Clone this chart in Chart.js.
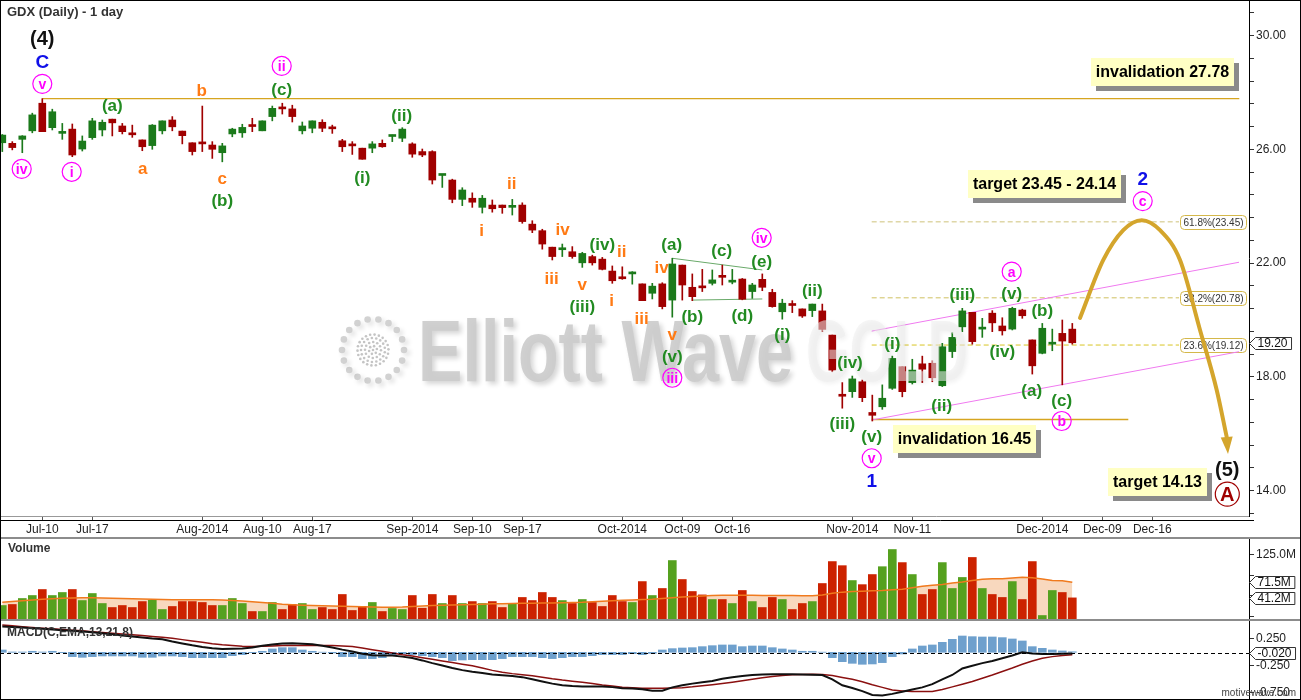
<!DOCTYPE html>
<html>
<head>
<meta charset="utf-8">
<script src="https://cdn.jsdelivr.net/npm/chart.js@4.4.1/dist/chart.umd.min.js"></script>
<style>
    body { margin: 0; background: #fff; overflow: hidden; }
    #wrap { position: relative; width: 1301px; height: 700px; }
    canvas { position: absolute; left: 0; }
    .sep { position: absolute; left: 0; width: 1301px; height: 2px; background: #8c8c8c; }
    #frame { position: absolute; left: 0; top: 0; width: 1301px; height: 700px; box-sizing: border-box; border: 1px solid #000; pointer-events: none; }
</style>
</head>
<body>
<div id="wrap">
    <canvas id="priceChart" width="1301" height="537" style="top:0"></canvas>
    <div class="sep" style="top:537px"></div>
    <canvas id="volumeChart" width="1301" height="80" style="top:539px"></canvas>
    <div class="sep" style="top:619px"></div>
    <canvas id="macdChart" width="1301" height="78" style="top:621px"></canvas>
    <div id="frame"></div>
</div>
<script>
// ==========================================
// GDX daily - price / volume / MACD
// ==========================================

// trading-day index of the first bar (Jul 3 2014), Jul 10 2014 = 0
const firstIndex = -4;

const tickIndex = [0, 5, 16, 22, 27, 37, 43, 48, 58, 64, 69, 81, 87, 100, 106, 111];
const tickLabels = ["Jul-10", "Jul-17", "Aug-2014", "Aug-10", "Aug-17", "Sep-2014", "Sep-10", "Sep-17",
    "Oct-2014", "Oct-09", "Oct-16", "Nov-2014", "Nov-11", "Dec-2014", "Dec-09", "Dec-16"];

const open = [26.23, 26.21, 26.35, 26.65, 27.62, 26.76, 26.56, 26.71, 26.01, 26.41, 26.68, 27.06, 26.82, 26.56,
    26.33, 26.13, 26.65, 27.03, 26.64, 26.23, 26.22, 26.15, 25.88, 26.54,
    26.58, 26.84, 26.65, 27.15, 27.46, 27.42, 26.65, 26.74, 26.95, 26.76,
    26.30, 26.16, 26.04, 26.04, 26.21, 26.45, 26.39, 26.19, 25.92, 25.92,
    25.08, 24.92, 24.24, 24.28, 23.96, 24.04, 24.04, 23.96, 24.04, 23.37,
    23.14, 22.56, 22.47, 22.40, 22.01, 22.23, 22.14, 21.72, 21.48, 21.62,
    21.27, 20.94, 21.27, 20.70, 21.93, 21.15, 21.17, 21.29, 21.55, 21.33,
    21.44, 21.00, 21.43, 20.97, 20.29, 20.55, 20.39, 20.33, 20.32, 19.47,
    17.36, 17.48, 17.83, 16.75, 16.95, 17.60, 18.36, 17.80, 18.46, 18.48,
    17.69, 18.89, 19.76, 20.27, 19.68, 20.24, 19.79, 19.68, 20.35, 19.30,
    18.83, 19.15, 19.53, 19.68];

const high = [26.52, 26.27, 26.48, 27.27, 27.78, 27.41, 26.91, 26.89, 26.47, 27.09, 27.03, 27.06, 26.91, 26.85,
    26.33, 26.87, 27.00, 27.15, 26.64, 26.23, 27.52, 26.27, 26.21, 26.74,
    26.88, 27.09, 27.00, 27.52, 27.62, 27.55, 26.96, 27.00, 27.04, 26.85,
    26.35, 26.27, 26.04, 26.27, 26.33, 26.50, 26.76, 26.23, 26.01, 25.95,
    25.12, 24.95, 24.65, 24.47, 24.38, 24.22, 24.04, 24.24, 24.12, 23.49,
    23.19, 22.56, 22.67, 22.58, 22.38, 22.28, 22.20, 21.90, 21.87, 21.70,
    21.27, 21.29, 21.31, 22.17, 21.93, 21.62, 21.78, 21.76, 21.93, 21.78,
    21.46, 21.29, 21.62, 21.08, 20.73, 20.68, 20.39, 20.56, 20.56, 19.47,
    17.80, 18.03, 17.89, 17.36, 17.72, 18.73, 18.36, 18.62, 18.73, 18.57,
    19.18, 19.56, 20.41, 20.27, 20.06, 20.33, 20.08, 20.45, 20.38, 19.30,
    19.88, 19.68, 20.00, 19.88];

const low = [25.92, 25.98, 25.88, 26.58, 26.62, 26.68, 26.35, 25.74, 25.94, 26.35, 26.47, 26.47, 26.54, 26.42,
    25.95, 26.00, 26.54, 26.65, 26.19, 25.80, 25.92, 25.68, 25.56, 26.44,
    26.42, 26.62, 26.65, 27.00, 27.24, 26.96, 26.54, 26.58, 26.62, 26.56,
    25.92, 25.82, 25.65, 25.88, 26.07, 26.27, 26.27, 25.72, 25.74, 24.78,
    24.66, 24.12, 24.02, 23.96, 23.76, 23.79, 23.75, 23.69, 23.40, 23.07,
    22.49, 22.11, 22.23, 22.17, 21.85, 21.93, 21.76, 21.29, 21.43, 21.26,
    20.68, 20.74, 20.39, 20.10, 20.70, 20.68, 21.00, 21.23, 21.23, 21.27,
    20.71, 20.76, 21.03, 20.45, 20.03, 20.26, 20.09, 20.12, 19.59, 18.18,
    16.90, 17.28, 17.13, 16.45, 16.86, 17.56, 17.30, 17.75, 17.80, 17.83,
    17.66, 18.68, 19.59, 19.15, 19.39, 19.59, 19.47, 19.65, 20.06, 18.10,
    18.81, 18.92, 17.72, 19.15];

const close = [26.50, 26.06, 26.47, 27.21, 26.62, 27.32, 26.60, 25.80, 26.29, 27.00, 26.95, 26.93, 26.62, 26.51,
    26.09, 26.85, 27.00, 26.79, 26.48, 25.92, 26.19, 26.00, 26.12, 26.71,
    26.77, 26.80, 27.00, 27.44, 27.42, 27.15, 26.82, 27.00, 26.74, 26.72,
    26.09, 26.12, 25.65, 26.19, 26.09, 26.48, 26.71, 25.83, 25.80, 24.92,
    25.10, 24.24, 24.57, 24.14, 24.28, 23.91, 23.95, 24.00, 23.46, 23.16,
    22.67, 22.23, 22.51, 22.23, 22.34, 22.01, 21.78, 21.38, 21.45, 21.66,
    20.68, 21.19, 20.47, 21.97, 21.23, 20.82, 21.13, 21.41, 21.50, 21.37,
    20.73, 21.23, 21.15, 20.47, 20.59, 20.51, 20.14, 20.56, 19.67, 18.24,
    17.32, 17.93, 17.27, 16.65, 17.25, 18.65, 17.48, 18.24, 18.27, 17.97,
    19.06, 19.39, 20.32, 19.24, 19.73, 19.90, 19.62, 20.41, 20.15, 18.39,
    19.71, 19.20, 19.26, 19.20];

// volume, millions
const volume = [26.3, 28.3, 40, 45.8, 57.5, 45.8, 51.7, 57.5, 36, 49.7, 30.2, 22.4, 26.3, 22.4,
    34, 36.6, 18.5, 24.4, 34, 34, 32.2, 26.3, 26.3, 40,
    30.2, 14.6, 14.6, 32.2, 18.5, 28.3, 30.2, 18.5, 22.4, 18.5,
    47.8, 16.6, 24.4, 32.2, 14.6, 20.5, 18.5, 45.8, 21, 47.8,
    30.2, 45.8, 30.2, 34, 30.2, 34, 22.4, 30.2, 42, 36,
    51.7, 42, 36, 30.2, 38, 32.2, 24.4, 45.8, 34, 32.2,
    73, 45.8, 59.5, 114, 77, 53.6, 47, 38, 38, 30.2,
    55.6, 34, 22.4, 42, 38, 18.5, 30.2, 34, 69.2, 112,
    104, 75, 67, 86.7, 102, 135.5, 110, 86.7, 47.8, 57.5,
    110, 59.5, 81, 120, 59.5, 47.8, 42, 73, 38, 112,
    6.8, 55.6, 51.7, 41.2];

const volumeMA = [32.8, 34, 35.5, 37, 38.5, 39.5, 40.5, 41, 41.3, 41.3, 41, 40.5, 40, 39.5,
    39, 38.5, 38, 37.5, 37.4, 37.4, 37.4, 37.4, 37, 36,
    35, 33.5, 32, 30.5, 29, 28, 27, 26.3, 26, 25.5,
    25, 24.5, 24, 23.5, 23.1, 23.1, 23.5, 24.5, 25.5, 26.3,
    27, 27.5, 28, 28.5, 29, 29.6, 29.8, 30, 30.5, 30.8,
    31, 31.2, 31.5, 32, 32.5, 33.5, 34.5, 35.5, 36.5, 37.2,
    38, 38.5, 40, 41.3, 43, 44, 45, 46, 46.5, 46.5,
    46.5, 46.5, 46, 46, 46, 45.8, 45.5, 45.4, 47, 50,
    52.4, 53.6, 54.3, 55, 55.6, 57, 58.2, 61, 64, 66,
    67.3, 70, 72, 75, 77.5, 78.4, 78.4, 80, 81.6, 80.5,
    78, 75.1, 74.5, 71.5];

const macdLine = [0.478, 0.47, 0.46, 0.447, 0.435, 0.423, 0.41, 0.398, 0.386, 0.37, 0.352, 0.333, 0.312, 0.295,
    0.275, 0.255, 0.24, 0.20, 0.165, 0.13, 0.10, 0.075, 0.06, 0.065,
    0.07, 0.09, 0.12, 0.145, 0.165, 0.17, 0.16, 0.15, 0.12, 0.09,
    0.05, 0.015, -0.025, -0.055, -0.06, -0.06, -0.08, -0.105, -0.15, -0.20,
    -0.245, -0.29, -0.33, -0.36, -0.385, -0.41, -0.425, -0.44, -0.46, -0.50,
    -0.54, -0.58, -0.61, -0.625, -0.633, -0.633, -0.635, -0.645, -0.664, -0.672,
    -0.683, -0.71, -0.71, -0.65, -0.61, -0.58, -0.555, -0.53, -0.49, -0.46,
    -0.44, -0.42, -0.41, -0.405, -0.405, -0.405, -0.41, -0.415, -0.42, -0.50,
    -0.61, -0.66, -0.72, -0.79, -0.80, -0.77, -0.73, -0.69, -0.65, -0.59,
    -0.50, -0.42, -0.30, -0.25, -0.20, -0.16, -0.11, -0.06, 0.0, -0.02,
    -0.03, -0.03, -0.025, -0.020];

const signalLine = [0.505, 0.49, 0.475, 0.46, 0.447, 0.435, 0.422, 0.41, 0.398, 0.383, 0.368, 0.352, 0.338, 0.325,
    0.31, 0.295, 0.28, 0.26, 0.235, 0.21, 0.185, 0.16, 0.14, 0.125,
    0.112, 0.108, 0.112, 0.118, 0.124, 0.126, 0.126, 0.126, 0.126, 0.126,
    0.118, 0.108, 0.08, 0.048, 0.02, -0.013, -0.045, -0.07, -0.10, -0.13,
    -0.16, -0.19, -0.22, -0.25, -0.29, -0.335, -0.37, -0.395, -0.415, -0.435,
    -0.46, -0.49, -0.515, -0.535, -0.555, -0.58, -0.605, -0.625, -0.646, -0.655,
    -0.664, -0.665, -0.665, -0.662, -0.655, -0.64, -0.62, -0.60, -0.578, -0.553,
    -0.525, -0.497, -0.472, -0.448, -0.43, -0.417, -0.41, -0.405, -0.41, -0.43,
    -0.465, -0.50, -0.545, -0.60, -0.65, -0.70, -0.715, -0.726, -0.726, -0.726,
    -0.69, -0.64, -0.59, -0.54, -0.48, -0.42, -0.355, -0.29, -0.22, -0.16,
    -0.11, -0.08, -0.06, -0.046];

const macdHist = [0.043, 0.006, 0.006, 0.019, 0.006, 0.019, -0.006, -0.08, -0.093, -0.08, -0.068, -0.068, -0.068, -0.068,
    -0.093, -0.093, -0.068, -0.068, -0.08, -0.099, -0.099, -0.099, -0.099, -0.062,
    -0.043, -0.006, 0.019, 0.062, 0.086, 0.086, 0.043, 0.019, 0.003, -0.012,
    -0.08, -0.08, -0.117, -0.117, -0.099, -0.062, -0.031, -0.043, -0.062, -0.08,
    -0.099, -0.154, -0.142, -0.136, -0.136, -0.136, -0.117, -0.08, -0.08, -0.08,
    -0.099, -0.117, -0.099, -0.08, -0.08, -0.062, -0.043, -0.043, -0.043, -0.025,
    -0.043, -0.019, 0.043, 0.068, 0.08, 0.086, 0.105, 0.123, 0.136, 0.136,
    0.105, 0.117, 0.117, 0.086, 0.062, 0.043, 0.019, 0.019, 0.003, -0.099,
    -0.173, -0.204, -0.222, -0.216, -0.191, -0.08, -0.031, 0.062, 0.117, 0.136,
    0.185, 0.241, 0.302, 0.29, 0.284, 0.284, 0.272, 0.247, 0.21, 0.105,
    0.074, 0.043, 0.025, 0.01];

// annotations, in (bar index, price)
const fibPct = [61.8, 38.2, 23.6];
const fibLevel = [23.45, 20.78, 19.12];
const fibFrom = 82.94, fibTo = 113.67;

const projX = [103.77, 106.1, 108.1, 109.94, 111.77, 113.77, 115.77, 117.44, 118.44];
const projY = [20.07, 22.11, 23.16, 23.51, 23.16, 22.11, 19.65, 17.54, 15.89];
const projTip = [118.57, 15.29];

const channelX = [82.94, 119.67];
const channelUpper = [19.61, 22.03];
const channelLower = [16.485, 18.886];

const triUpperX = [63, 72], triUpperY = [22.17, 21.76];
const triLowerX = [65, 72], triLowerY = [20.70, 20.74];

const invalidHigh = 27.78, invalidHighX = [0, 119.7];
const invalidLow = 16.50, invalidLowX = [82.94, 108.6];

const noteText = ["invalidation 27.78", "target 23.45 - 24.14", "invalidation 16.45", "target 14.13"];
const noteX = [112.0, 100.2, 92.25, 111.5];
const noteY = [28.70, 24.79, 15.82, 14.29];

const waveLabels = [
    ["(4)", 0, 29.88, "black"], ["C", 0, 29.08, "blue"], ["v", 0, 28.30, "pink"],
    ["iv", -2.06, 25.31, "pink"], ["i", 2.94, 25.21, "pink"], ["(a)", 7, 27.56, "green"],
    ["a", 10.04, 25.33, "orange"], ["b", 15.94, 28.06, "orange"], ["c", 18, 24.98, "orange"],
    ["(b)", 18, 24.19, "green"], ["ii", 23.94, 28.93, "pink"], ["(c)", 23.94, 28.12, "green"],
    ["(i)", 32, 25.02, "green"], ["(ii)", 35.94, 27.21, "green"], ["i", 43.94, 23.16, "orange"],
    ["ii", 46.94, 24.80, "orange"], ["iii", 50.94, 21.47, "orange"], ["iv", 52.04, 23.19, "orange"],
    ["v", 54, 21.27, "orange"], ["(iii)", 54, 20.47, "green"], ["(iv)", 56, 22.66, "green"],
    ["i", 56.94, 20.70, "orange"], ["ii", 57.94, 22.40, "orange"], ["iii", 59.94, 20.06, "orange"],
    ["iv", 61.94, 21.84, "orange"], ["(a)", 62.94, 22.66, "green"], ["v", 63, 19.50, "orange"],
    ["(v)", 63, 18.71, "green"], ["iii", 63, 17.97, "pink"], ["(b)", 65, 20.12, "green"],
    ["(c)", 67.94, 22.46, "green"], ["(d)", 70, 20.18, "green"], ["iv", 71.94, 22.89, "pink"],
    ["(e)", 71.94, 22.07, "green"], ["(i)", 74, 19.50, "green"], ["(ii)", 77, 21.05, "green"],
    ["(iii)", 80, 16.37, "green"], ["(iv)", 80.77, 18.50, "green"], ["(v)", 82.94, 15.90, "green"],
    ["v", 82.94, 15.14, "pink"], ["1", 82.94, 14.35, "blue"], ["(i)", 85, 19.18, "green"],
    ["(ii)", 89.94, 17.01, "green"], ["(iii)", 92, 20.91, "green"], ["a", 96.94, 21.70, "pink"],
    ["(v)", 96.94, 20.94, "green"], ["(iv)", 96, 18.89, "green"], ["(b)", 100, 20.35, "green"],
    ["(a)", 98.94, 17.54, "green"], ["(c)", 101.94, 17.19, "green"], ["b", 101.94, 16.45, "pink"],
    ["2", 110.04, 24.96, "blue"], ["c", 110.04, 24.18, "pink"], ["(5)", 118.5, 14.75, "black"],
    ["A", 118.5, 13.88, "red"]
];

// ------------------------------------------

const FONT = '"Liberation Sans", Arial, sans-serif';
const fnt = (w, s) => w + " " + s + "px " + FONT;

const X_MIN = -4.23, X_MAX = 120.67;
const idx = close.map((c, k) => firstIndex + k);
const isUp = close.map((c, k) => c >= open[k]);

const labelStyle = {
    black: { font: fnt("bold", 20), color: "#111" },
    blue: { font: fnt("bold", 19), color: "#1010e8" },
    green: { font: fnt("bold", 17), color: "#228b22" },
    orange: { font: fnt("bold", 17), color: "#ff7a14" },
    pink: { font: fnt("bold", 14), color: "#ff00ff", circle: 9.5 },
    red: { font: fnt("bold", 20), color: "#a00000", circle: 12 }
};

function xAxis(show) {
    return {
        type: "linear",
        display: show,
        min: X_MIN,
        max: X_MAX,
        offset: false,
        grid: { drawOnChartArea: false, offset: false, tickLength: 4, tickColor: "#555" },
        border: { display: false },
        afterBuildTicks: s => { s.ticks = tickIndex.map(v => ({ value: v })); },
        ticks: {
            autoSkip: false, maxRotation: 0, padding: 2, color: "#222",
            font: { size: 12, family: FONT },
            callback: v => tickLabels[tickIndex.indexOf(v)]
        },
        afterFit: s => {
            s.height = show ? 21 : 0;
            s.paddingLeft = 0;
            s.paddingRight = 0;
        }
    };
}

function yAxis(min, max, ticks, label) {
    return {
        type: "linear",
        position: "right",
        min: min,
        max: max,
        grid: { drawOnChartArea: false, tickLength: 5, tickColor: "#333" },
        border: { display: true, color: "#000" },
        afterBuildTicks: s => { s.ticks = ticks.map(v => ({ value: v })); },
        ticks: { padding: 2, color: "#222", font: { size: 12, family: FONT }, callback: label },
        afterFit: s => { s.width = 52; s.paddingTop = 0; s.paddingBottom = 0; }
    };
}

const baseOptions = {
    responsive: false,
    animation: false,
    devicePixelRatio: 1,
    events: [],
    layout: { padding: 0 },
    plugins: { legend: { display: false }, tooltip: { enabled: false } }
};

function drawTag(ctx, x, yy, text) {
    ctx.save();
    ctx.font = fnt("normal", 12);
    const w = ctx.measureText(text).width;
    const h = 12;
    x = Math.round(x) + 0.5;
    yy = Math.round(yy) + 0.5;
    ctx.beginPath();
    ctx.moveTo(x, yy);
    ctx.lineTo(x + 6, yy - h / 2);
    ctx.lineTo(x + w + 12, yy - h / 2);
    ctx.lineTo(x + w + 12, yy + h / 2);
    ctx.lineTo(x + 6, yy + h / 2);
    ctx.closePath();
    ctx.fillStyle = "#fff";
    ctx.fill();
    ctx.strokeStyle = "#333";
    ctx.lineWidth = 1;
    ctx.stroke();
    ctx.fillStyle = "#111";
    ctx.textAlign = "left";
    ctx.textBaseline = "middle";
    ctx.fillText(text, x + 8, yy + 0.5);
    ctx.restore();
}

function seg(xs, ys) {
    return xs.map((x, k) => ({ x: x, y: Array.isArray(ys) ? ys[k] : ys }));
}

function lineSet(data, color, width, order, dash) {
    return {
        type: "line", data: data, borderColor: color, borderWidth: width,
        borderDash: dash || [], pointRadius: 0, fill: false, order: order
    };
}

// ---------- price panel ----------

const priceTicks = [];
for (let k = 33; k <= 78; k++) priceTicks.push(Math.round(k * 4) / 10);

const priceDecor = {
    id: "priceDecor",
    beforeDatasetsDraw(chart) {
        const { ctx, chartArea: a, scales: { y } } = chart;
        ctx.save();
        ctx.font = fnt("normal", 10);
        ctx.textAlign = "center";
        ctx.textBaseline = "middle";
        fibPct.forEach((pct, k) => {
            const txt = pct.toFixed(1) + "%(" + fibLevel[k].toFixed(2) + ")";
            const w = Math.round(ctx.measureText(txt).width) + 6;
            const yy = Math.round(y.getPixelForValue(fibLevel[k])) + 0.5;
            const x0 = Math.round(a.right - 3 - w) + 0.5;
            ctx.beginPath();
            ctx.roundRect(x0, yy - 7, w, 14, 4);
            ctx.fillStyle = "#fff";
            ctx.fill();
            ctx.strokeStyle = "#d4b84a";
            ctx.lineWidth = 1;
            ctx.stroke();
            ctx.fillStyle = "#333";
            ctx.fillText(txt, x0 + w / 2, yy + 0.5);
        });
        ctx.restore();
    },
    afterDatasetsDraw(chart) {
        const { ctx, scales: { x, y } } = chart;
        // arrow head on the projection
        const bx = x.getPixelForValue(projX[projX.length - 1]);
        const by = y.getPixelForValue(projY[projY.length - 1]);
        const tx = x.getPixelForValue(projTip[0]);
        const ty = y.getPixelForValue(projTip[1]);
        const len = Math.hypot(tx - bx, ty - by);
        const nx = -(ty - by) / len * 6, ny = (tx - bx) / len * 6;
        ctx.save();
        ctx.fillStyle = "#d4a52c";
        ctx.beginPath();
        ctx.moveTo(tx, ty);
        ctx.lineTo(bx + nx, by + ny);
        ctx.lineTo(bx - nx, by - ny);
        ctx.closePath();
        ctx.fill();

        // watermark
        ctx.fillStyle = "rgba(205,205,205,0.9)";
        ctx.shadowColor = "rgba(0,0,0,0.15)";
        ctx.shadowBlur = 5;
        ctx.shadowOffsetX = 3;
        ctx.shadowOffsetY = 3;
        const cx = 373, cy = 350;
        for (let k = 0; k < 18; k++) {
            const t = k / 18 * Math.PI * 2;
            ctx.beginPath();
            ctx.arc(cx + Math.cos(t) * 31, cy + Math.sin(t) * 31, 3.3, 0, Math.PI * 2);
            ctx.fill();
        }
        ctx.shadowColor = "transparent";
        ctx.fillStyle = "rgba(190,190,190,0.9)";
        [[0, 1], [4, 6], [8, 12], [12, 17], [15.5, 22]].forEach(([r, n]) => {
            for (let k = 0; k < n; k++) {
                const t = k / n * Math.PI * 2 + r * 0.2;
                ctx.beginPath();
                ctx.arc(cx + Math.cos(t) * r, cy + Math.sin(t) * r, 1.3, 0, Math.PI * 2);
                ctx.fill();
            }
        });

        ctx.font = fnt("bold", 88);
        ctx.textBaseline = "alphabetic";
        ctx.textAlign = "left";
        const t1 = "Elliott Wave";
        const w1 = ctx.measureText(t1).width;
        ctx.save();
        ctx.translate(418, 381);
        ctx.scale(375 / w1, 1);
        ctx.shadowColor = "rgba(0,0,0,0.18)";
        ctx.shadowBlur = 5;
        ctx.shadowOffsetX = 3;
        ctx.shadowOffsetY = 3;
        ctx.fillStyle = "rgba(204,204,204,0.92)";
        ctx.fillText(t1, 0, 0);
        ctx.restore();
        const t2 = "GOLD";
        const w2 = ctx.measureText(t2).width;
        ctx.save();
        ctx.translate(806, 381);
        ctx.scale(162 / w2, 1);
        ctx.shadowColor = "rgba(0,0,0,0.10)";
        ctx.shadowBlur = 4;
        ctx.shadowOffsetX = 2;
        ctx.shadowOffsetY = 2;
        ctx.fillStyle = "rgba(236,236,236,0.55)";
        ctx.fillText(t2, 0, 0);
        ctx.restore();
        ctx.restore();
    },
    afterDraw(chart) {
        const { ctx, chartArea: a, scales: { x, y } } = chart;
        ctx.save();
        // x axis strip
        ctx.lineWidth = 1;
        ctx.strokeStyle = "#999";
        ctx.beginPath();
        ctx.moveTo(0, a.bottom + 0.5);
        ctx.lineTo(a.right, a.bottom + 0.5);
        ctx.stroke();
        ctx.strokeStyle = "#000";
        ctx.beginPath();
        ctx.moveTo(0, a.bottom + 4.5);
        ctx.lineTo(a.right + 5, a.bottom + 4.5);
        ctx.stroke();

        // title
        ctx.fillStyle = "#333";
        ctx.font = fnt("bold", 13);
        ctx.textAlign = "left";
        ctx.textBaseline = "middle";
        ctx.fillText("GDX (Daily) - 1 day", 7, 12);

        // wave labels
        ctx.textAlign = "center";
        waveLabels.forEach(([txt, i, p, st]) => {
            const s = labelStyle[st];
            const px = x.getPixelForValue(i), py = y.getPixelForValue(p);
            if (s.circle) {
                ctx.beginPath();
                ctx.arc(px, py, s.circle, 0, Math.PI * 2);
                ctx.strokeStyle = s.color;
                ctx.lineWidth = 1.2;
                ctx.stroke();
            }
            ctx.font = s.font;
            ctx.fillStyle = s.color;
            ctx.fillText(txt, px, py + 1);
        });

        // note boxes
        ctx.font = fnt("bold", 16);
        noteText.forEach((txt, k) => {
            const w = Math.round(ctx.measureText(txt).width) + 10, h = 28;
            const x0 = Math.round(x.getPixelForValue(noteX[k]) - w / 2);
            const y0 = Math.round(y.getPixelForValue(noteY[k]) - h / 2);
            ctx.fillStyle = "#8a8a8a";
            ctx.fillRect(x0 + 5, y0 + 5, w, h);
            ctx.fillStyle = "#ffffc4";
            ctx.fillRect(x0, y0, w, h);
            ctx.fillStyle = "#000";
            ctx.fillText(txt, x0 + w / 2, y0 + h / 2 + 1);
        });
        ctx.restore();

        const last = close[close.length - 1];
        drawTag(ctx, a.right, y.getPixelForValue(last), last.toFixed(2));
    }
};

new Chart(document.getElementById("priceChart"), {
    type: "bar",
    data: {
        datasets: [
            {
                type: "line", data: seg(projX, projY), borderColor: "#d4a52c", borderWidth: 4,
                pointRadius: 0, cubicInterpolationMode: "monotone", borderCapStyle: "round", order: 0
            },
            {
                data: idx.map((i, k) => ({ x: i, y: [open[k], close[k]] })),
                backgroundColor: isUp.map(u => u ? "#1b7a1b" : "#a00000"),
                barThickness: 7, minBarLength: 2, grouped: false, borderWidth: 0, order: 1
            },
            {
                data: idx.map((i, k) => ({ x: i, y: [low[k], high[k]] })),
                backgroundColor: isUp.map(u => u ? "#1b7a1b" : "#a00000"),
                barThickness: 1, grouped: false, borderWidth: 0, order: 2
            },
            lineSet(seg(channelX, channelUpper), "#f07af0", 1, 3),
            lineSet(seg(channelX, channelLower), "#f07af0", 1, 3),
            lineSet(seg(triUpperX, triUpperY), "#6aaa6a", 1, 3),
            lineSet(seg(triLowerX, triLowerY), "#6aaa6a", 1, 3),
            lineSet(seg(invalidHighX, invalidHigh), "#d6a520", 1.2, 4),
            lineSet(seg(invalidLowX, invalidLow), "#d6a520", 1.5, 4),
            lineSet(seg([fibFrom, fibTo], fibLevel[0]), "#cfc27a", 1, 5, [5, 3]),
            lineSet(seg([fibFrom, fibTo], fibLevel[1]), "#cfc060", 1, 5, [5, 3]),
            lineSet(seg([fibFrom, fibTo], fibLevel[2]), "#d8c624", 1, 5, [5, 3])
        ]
    },
    options: {
        ...baseOptions,
        scales: {
            x: xAxis(true),
            y: yAxis(13.111, 31.248, priceTicks,
                v => Math.abs(v / 2 - Math.round(v / 2)) < 1e-6 ? v.toFixed(2) : "")
        }
    },
    plugins: [priceDecor]
});

// ---------- volume panel ----------

const volumeTicks = [5, 25, 45, 65, 85, 105, 125, 145];

const volumeDecor = {
    id: "volumeDecor",
    afterDraw(chart) {
        const { ctx, chartArea: a, scales: { y } } = chart;
        ctx.save();
        ctx.fillStyle = "#333";
        ctx.font = fnt("bold", 12);
        ctx.textAlign = "left";
        ctx.textBaseline = "middle";
        ctx.fillText("Volume", 8, 10);
        ctx.restore();
        const ma = volumeMA[volumeMA.length - 1];
        const v = volume[volume.length - 1];
        drawTag(ctx, a.right, y.getPixelForValue(ma), ma.toFixed(1) + "M");
        drawTag(ctx, a.right, y.getPixelForValue(v), v.toFixed(1) + "M");
    }
};

new Chart(document.getElementById("volumeChart"), {
    type: "bar",
    data: {
        datasets: [
            {
                type: "line", data: idx.map((i, k) => ({ x: i, y: volumeMA[k] })),
                borderColor: "#f07a1e", borderWidth: 1.5, pointRadius: 0, fill: false, order: 0
            },
            {
                data: idx.map((i, k) => ({ x: i, y: volume[k] })),
                backgroundColor: isUp.map(u => u ? "#55a11f" : "#cc2200"),
                barThickness: 8, grouped: false, borderWidth: 0, order: 1
            },
            {
                type: "line", data: idx.map((i, k) => ({ x: i, y: volumeMA[k] })),
                borderWidth: 0, backgroundColor: "#f8d8be", pointRadius: 0, fill: "origin", order: 2
            }
        ]
    },
    options: {
        ...baseOptions,
        scales: {
            x: xAxis(false),
            y: yAxis(0, 156, volumeTicks, v => (v - 25) % 100 === 0 ? v.toFixed(1) + "M" : "")
        }
    },
    plugins: [volumeDecor]
});

// ---------- MACD panel ----------

const macdTicks = [];
for (let k = -6; k <= 2; k++) macdTicks.push(0.25 + k / 6);

const macdDecor = {
    id: "macdDecor",
    afterDatasetsDraw(chart) {
        const { ctx, chartArea: a, scales: { y } } = chart;
        const yy = Math.round(y.getPixelForValue(macdLine[macdLine.length - 1])) + 0.5;
        ctx.save();
        ctx.strokeStyle = "#000";
        ctx.lineWidth = 1;
        ctx.setLineDash([4, 3]);
        ctx.beginPath();
        ctx.moveTo(a.left, yy);
        ctx.lineTo(a.right, yy);
        ctx.stroke();
        ctx.restore();
    },
    afterDraw(chart) {
        const { ctx, chartArea: a, scales: { y } } = chart;
        ctx.save();
        ctx.fillStyle = "#333";
        ctx.font = fnt("bold", 12);
        ctx.textAlign = "left";
        ctx.textBaseline = "middle";
        ctx.fillText("MACD(C,EMA,13,21,8)", 7, 12);
        ctx.font = fnt("normal", 10);
        ctx.textAlign = "right";
        ctx.fillStyle = "#444";
        ctx.fillText("motivewave.com", 1296, 72);
        ctx.restore();
        const m = macdLine[macdLine.length - 1];
        drawTag(ctx, a.right, y.getPixelForValue(m), m.toFixed(3));
    }
};

new Chart(document.getElementById("macdChart"), {
    type: "bar",
    data: {
        datasets: [
            {
                type: "line", data: idx.map((i, k) => ({ x: i, y: macdLine[k] })),
                borderColor: "#111", borderWidth: 2, pointRadius: 0, order: 0
            },
            {
                type: "line", data: idx.map((i, k) => ({ x: i, y: signalLine[k] })),
                borderColor: "#8b1010", borderWidth: 1.5, pointRadius: 0, order: 1
            },
            {
                data: idx.map((i, k) => ({ x: i, y: macdHist[k] })),
                backgroundColor: "#6ea0cd", barThickness: 8, grouped: false, borderWidth: 0, order: 2
            }
        ]
    },
    options: {
        ...baseOptions,
        scales: {
            x: xAxis(false),
            y: yAxis(-0.865, 0.58, macdTicks,
                v => Math.abs((v - 0.25) / 0.5 - Math.round((v - 0.25) / 0.5)) < 1e-6 ? v.toFixed(3) : "")
        }
    },
    plugins: [macdDecor]
});
</script>
</body>
</html>
